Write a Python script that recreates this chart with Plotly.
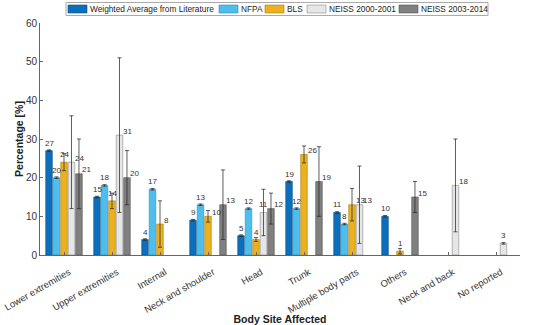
import plotly.graph_objects as go

categories = ["Lower extremities", "Upper extremities", "Internal", "Neck and shoulder", "Head",
              "Trunk", "Multiple body parts", "Others", "Neck and back", "No reported"]

series_names = ["Weighted Average from Literature", "NFPA", "BLS", "NEISS 2000-2001", "NEISS 2003-2014"]

weighted_avg = [27, 15, 4, 9, 5, 19, 11, 10, None, None]
weighted_err = [0.2, 0.2, 0.2, 0.2, 0.2, 0.2, 0.2, 0.2, None, None]
nfpa = [20, 18, 17, 13, 12, 12, 8, None, None, None]
nfpa_err = [0.2, 0.2, 0.2, 0.2, 0.2, 0.2, 0.2, None, None, None]
bls = [24, 14, 8, 10, 4, 26, 13, 1, None, None]
bls_err = [2.2, 2, 6, 1.5, 0.5, 2.2, 4.2, 0.7, None, None]
neiss_0001 = [24, 31, None, None, 11, None, 13, None, 18, 3]
neiss_0001_err = [12, 20, None, None, 6, None, 10, None, 12, 0.2]
neiss_0314 = [21, 20, None, 13, 12, 19, None, 15, None, None]
neiss_0314_err = [9, 7, None, 9, 4, 9, None, 4, None, None]

values = [weighted_avg, nfpa, bls, neiss_0001, neiss_0314]
errors = [weighted_err, nfpa_err, bls_err, neiss_0001_err, neiss_0314_err]

# label placement style: True = label set to the right of the error bar
label_right = [
    [False] * 10,
    [False] * 10,
    [False, False, True, True, False, True, True, False, False, False],
    [True, True, False, False, False, False, True, False, True, False],
    [True] * 10,
]
colors = ["#0b6fbd", "#4dbeee", "#edb120", "#e6e6e6", "#808080"]
edges = ["#0a4f86", "#2f8db5", "#a87d14", "#8a8a8a", "#555555"]

W, H = 550, 325
ML, MR, MT, MB = 40, 30, 23, 70
PW, PH = W - ML - MR, H - MT - MB

BARGAP = 0.22
BARGROUPGAP = 0.12
n = len(series_names)
slot = (1 - BARGAP) / n

fig = go.Figure()
annotations = []
for j, (name, vals, errs) in enumerate(zip(series_names, values, errors)):
    fig.add_trace(go.Bar(
        name=name, x=list(range(len(categories))), y=vals, showlegend=False,
        marker=dict(color=colors[j], line=dict(color=edges[j], width=0.6)),
        error_y=dict(type="data", array=[e if e is not None else 0 for e in errs],
                     color="rgba(40,40,40,0.75)", thickness=1, width=2),
    ))
    for i, v in enumerate(vals):
        if v is None:
            continue
        xpos = i + (j - (n - 1) / 2) * slot
        if label_right[j][i]:
            annotations.append(dict(x=xpos, y=v, text=str(v), showarrow=False, xanchor="left",
                                    yanchor="middle", xshift=1.5, yshift=4,
                                    font=dict(size=8, color="#333")))
        else:
            annotations.append(dict(x=xpos, y=v, text=str(v), showarrow=False, xanchor="center",
                                    yanchor="bottom", yshift=1,
                                    font=dict(size=8, color="#333")))

# manual legend (pixel positions converted to paper coordinates)
def px_x(px):
    return (px - ML) / PW

def px_y(py):
    return (H - MB - py) / PH

shapes = [dict(type="rect", xref="paper", yref="paper",
               x0=px_x(66), x1=px_x(488), y0=px_y(15.5), y1=px_y(2.5),
               line=dict(color="#aaaaaa", width=1), fillcolor="white", layer="above")]
legend_swatch_x = [68, 219, 265, 307, 399]
for j, name in enumerate(series_names):
    sx = legend_swatch_x[j]
    shapes.append(dict(type="rect", xref="paper", yref="paper",
                       x0=px_x(sx), x1=px_x(sx + 19), y0=px_y(13), y1=px_y(5),
                       fillcolor=colors[j], line=dict(color=edges[j], width=0.6), layer="above"))
    annotations.append(dict(xref="paper", yref="paper", x=px_x(sx + 20), y=px_y(9),
                            xanchor="left", yanchor="middle", text=name, showarrow=False,
                            font=dict(size=8.3, color="#222")))

fig.update_layout(
    width=W, height=H,
    barmode="group", bargap=BARGAP, bargroupgap=BARGROUPGAP,
    paper_bgcolor="white", plot_bgcolor="white",
    margin=dict(l=ML, r=MR, t=MT, b=MB, autoexpand=False),
    font=dict(family="Liberation Sans, Arial, sans-serif", size=10, color="#333"),
    annotations=annotations, shapes=shapes,
    showlegend=False,
)
fig.update_xaxes(
    range=[-0.5, len(categories) - 0.5],
    tickvals=list(range(len(categories))), ticktext=categories,
    tickangle=-30, tickfont=dict(size=9.5, color="#333"), ticklabeloverflow="allow",
    ticklabelshift=5, ticklabelstandoff=7,
    showline=True, linecolor="#666", linewidth=1,
    ticks="inside", ticklen=3, tickcolor="#666",
    showgrid=False, zeroline=False, automargin=False,
    title=dict(text="<b>Body Site Affected</b>", font=dict(size=10.5, color="#222"), standoff=2),
)
fig.update_yaxes(
    range=[0, 60], tickvals=[0, 10, 20, 30, 40, 50, 60],
    tickfont=dict(size=10, color="#333"),
    showline=True, linecolor="#666", linewidth=1,
    ticks="inside", ticklen=3, tickcolor="#666",
    showgrid=False, zeroline=False, automargin=False,
    title=dict(text="<b>Percentage [%]</b>", font=dict(size=10.5, color="#222"), standoff=0),
)

fig.write_html("out.html", config={"displayModeBar": False},
               post_script="document.body.style.margin='0px';")
